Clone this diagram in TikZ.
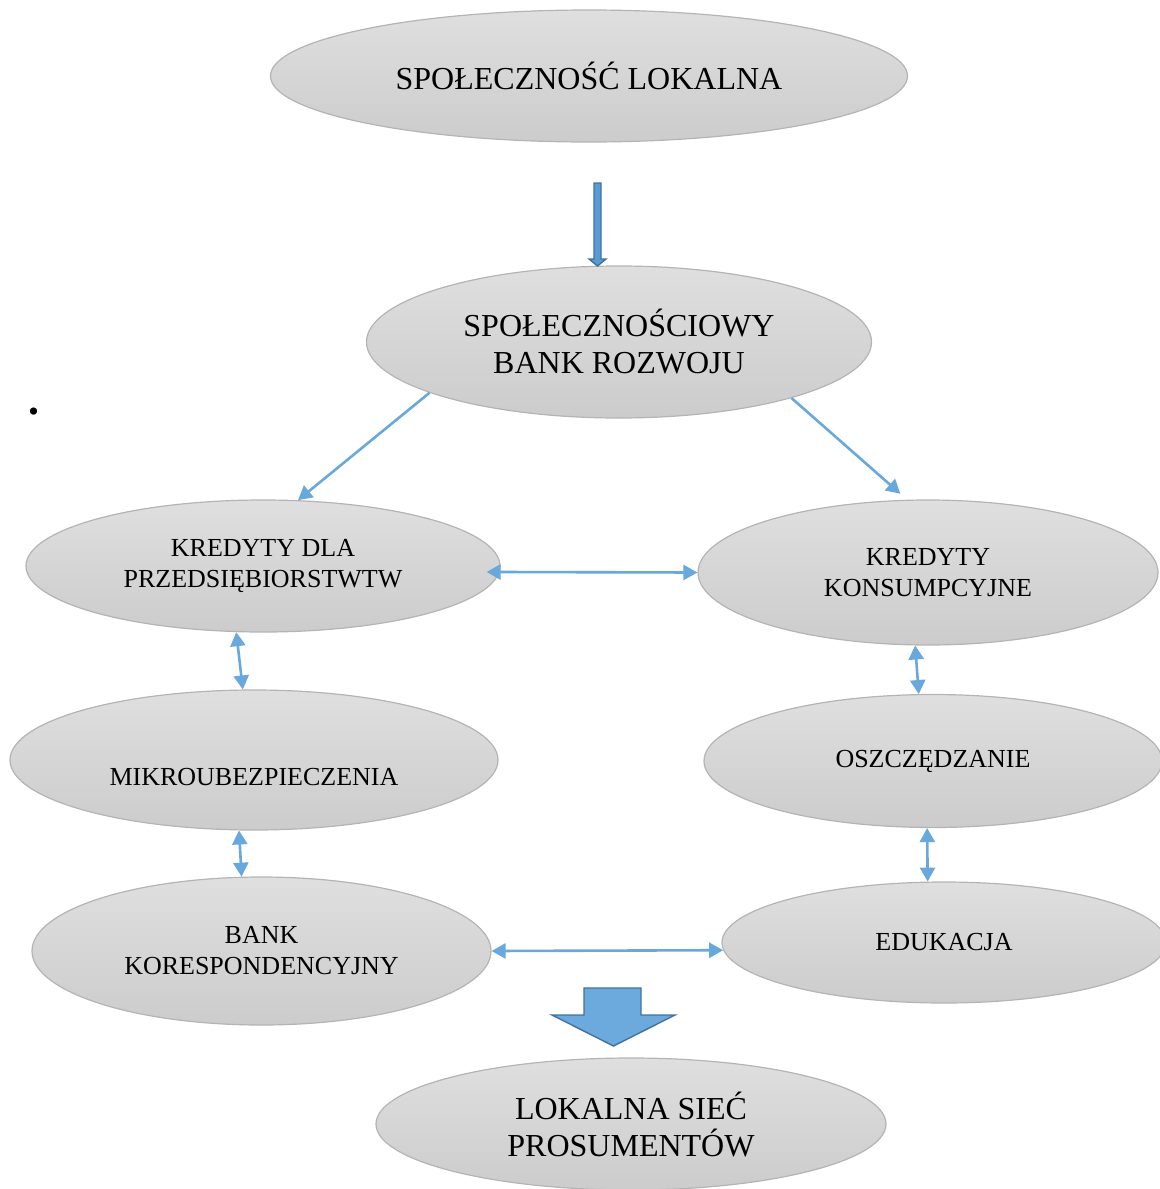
\documentclass[tikz,border=0pt]{standalone}
\usepackage{fontspec}
\setmainfont{Liberation Serif}
\usetikzlibrary{shapes.geometric}
\usetikzlibrary{arrows.meta}
\definecolor{bubtop}{RGB}{223,223,223}
\definecolor{bubbot}{RGB}{204,204,204}
\definecolor{bubline}{RGB}{180,180,180}
\definecolor{linkblue}{RGB}{104,168,220}
\definecolor{blockfill}{RGB}{108,169,221}
\definecolor{thinfill}{RGB}{91,155,213}
\definecolor{blockline}{RGB}{65,113,156}

\begin{document}
\begin{tikzpicture}[x=0.5pt,y=-0.5pt,
    bubble/.style={ellipse, draw=bubline, line width=0.6pt, top color=bubtop, bottom color=bubbot, inner sep=0pt, align=center},
    bigtext/.style={font=\fontsize{16}{18.5}\selectfont},
    smalltext/.style={font=\fontsize{13}{15.5}\selectfont},
    link/.style={draw=linkblue, line width=1.3pt, {Triangle[length=7pt,width=7.5pt]}-{Triangle[length=7pt,width=7.5pt]}},
    flow/.style={draw=linkblue, line width=1.3pt, -{Triangle[length=7pt,width=7.5pt]}}]
    \useasboundingbox (0,0) rectangle (1160,1189);

    \node[bubble, bigtext, minimum width=318.5pt, minimum height=66pt] (spol) at (589,76) {SPOŁECZNOŚĆ LOKALNA};
    \node[bubble, bigtext, minimum width=252.5pt, minimum height=76pt] (sbr) at (619,342) {SPOŁECZNOŚCIOWY\\BANK ROZWOJU};
    \node[bubble, smalltext, minimum width=237pt, minimum height=66pt] (kdp) at (263,566) {KREDYTY DLA\\PRZEDSIĘBIORSTWTW};
    \node[bubble, smalltext, minimum width=230pt, minimum height=72.5pt] (kk) at (928,572.5) {KREDYTY\\KONSUMPCYJNE};
    \node[bubble, minimum width=244pt, minimum height=70pt] (mik) at (254,760) {};
    \node[smalltext] (mikt) at (254,777) {MIKROUBEZPIECZENIA};
    \node[bubble, smalltext, minimum width=229pt, minimum height=66.5pt] (osz) at (933,761) {OSZCZĘDZANIE};
    \node[bubble, smalltext, minimum width=229.5pt, minimum height=74pt] (bk) at (261.5,951) {BANK\\KORESPONDENCYJNY};
    \node[bubble, smalltext, minimum width=222pt, minimum height=60.5pt] (edu) at (944,942.5) {EDUKACJA};
    \node[bubble, bigtext, minimum width=255pt, minimum height=66pt] (lsp) at (631,1124) {LOKALNA SIEĆ\\PROSUMENTÓW};
    \node[font=\fontsize{22}{24}\selectfont\bfseries, anchor=base, inner sep=0pt] (dot) at (34,414) {.};

    \draw[draw=blockline, fill=thinfill, line width=0.7pt] (594,183) -- (601,183) -- (601,259) -- (606,259) -- (597.5,266) -- (589,259) -- (594,259) -- cycle;
    \draw[draw=blockline, fill=blockfill, line width=0.7pt] (584,988) -- (641,988) -- (641,1015) -- (675,1015) -- (613.5,1046) -- (552,1015) -- (584,1015) -- cycle;

    \draw[flow] (sbr.195.7) -- (kdp.62);
    \draw[flow, shorten >=4.5pt] (sbr.342.4) -- (kk.106.5);
    \draw[link, shorten <=-7pt] ([yshift=-3pt]kdp.east) -- (kk.west);
    \draw[link] (kdp.248.5) -- (mik.99.7);
    \draw[link] (kk.260.7) -- (osz.102.8);
    \draw[link] (mik.258.4) -- (bk.105.4);
    \draw[link] (osz.265.6) -- (edu.105.7);
    \draw[link] (bk.0) -- (edu.182);
\end{tikzpicture}
\end{document}
